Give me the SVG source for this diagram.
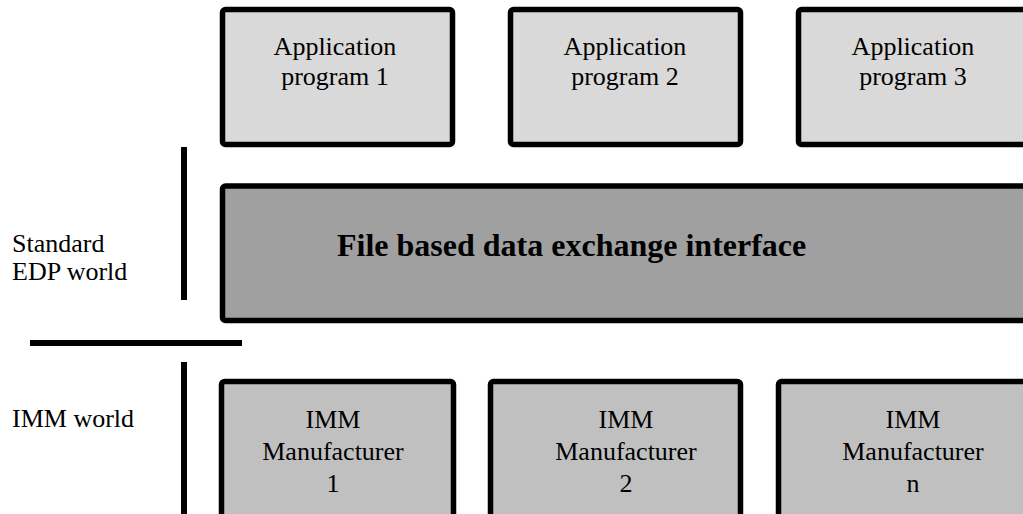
<svg xmlns="http://www.w3.org/2000/svg" width="1023" height="514" viewBox="0 0 1023 514">
<style>
.box{stroke:#000;stroke-width:5.5}
.app{fill:#d9d9d9}
.imm{fill:#c0c0c0}
.iface{fill:#a0a0a0}
.t{font-family:"Liberation Serif","Times New Roman",serif;font-size:26px;fill:#000}
.c{text-anchor:middle}
.b{font-weight:bold;font-size:32px}
.bar{stroke:#000;stroke-width:6;fill:none}
</style>
<rect width="1023" height="514" fill="#fff"/>
<g id="dividers">
<line class="bar" x1="184" y1="147" x2="184" y2="300"/>
<line class="bar" x1="30" y1="343" x2="242" y2="343"/>
<line class="bar" x1="184" y1="362" x2="184" y2="514"/>
</g>
<g id="label-edp">
<text class="t" x="12" y="252">Standard</text>
<text class="t" x="12" y="280">EDP world</text>
</g>
<g id="label-imm">
<text class="t" x="12" y="427">IMM world</text>
</g>
<g id="app1">
<rect class="box app" x="222.5" y="9.5" width="230" height="135" rx="3"/>
<text class="t c" x="335" y="55">Application</text>
<text class="t c" x="335" y="85">program 1</text>
</g>
<g id="app2">
<rect class="box app" x="510.5" y="9.5" width="230" height="135" rx="3"/>
<text class="t c" x="625" y="55">Application</text>
<text class="t c" x="625" y="85">program 2</text>
</g>
<g id="app3">
<rect class="box app" x="798.5" y="9.5" width="235" height="135" rx="3"/>
<text class="t c" x="913" y="55">Application</text>
<text class="t c" x="913" y="85">program 3</text>
</g>
<g id="interface">
<rect class="box iface" x="222.5" y="186" width="850" height="134.5" rx="3"/>
<text class="t b" x="337" y="256">File based data exchange interface</text>
</g>
<g id="imm1">
<rect class="box imm" x="221.5" y="381.5" width="232" height="200" rx="3"/>
<text class="t c" x="333" y="428">IMM</text>
<text class="t c" x="333" y="460">Manufacturer</text>
<text class="t c" x="333" y="492">1</text>
</g>
<g id="imm2">
<rect class="box imm" x="490.5" y="381.5" width="250" height="200" rx="3"/>
<text class="t c" x="626" y="428">IMM</text>
<text class="t c" x="626" y="460">Manufacturer</text>
<text class="t c" x="626" y="492">2</text>
</g>
<g id="immn">
<rect class="box imm" x="778.5" y="381.5" width="260" height="200" rx="3"/>
<text class="t c" x="913" y="428">IMM</text>
<text class="t c" x="913" y="460">Manufacturer</text>
<text class="t c" x="913" y="492">n</text>
</g>
<g id="connectors"></g>
</svg>
